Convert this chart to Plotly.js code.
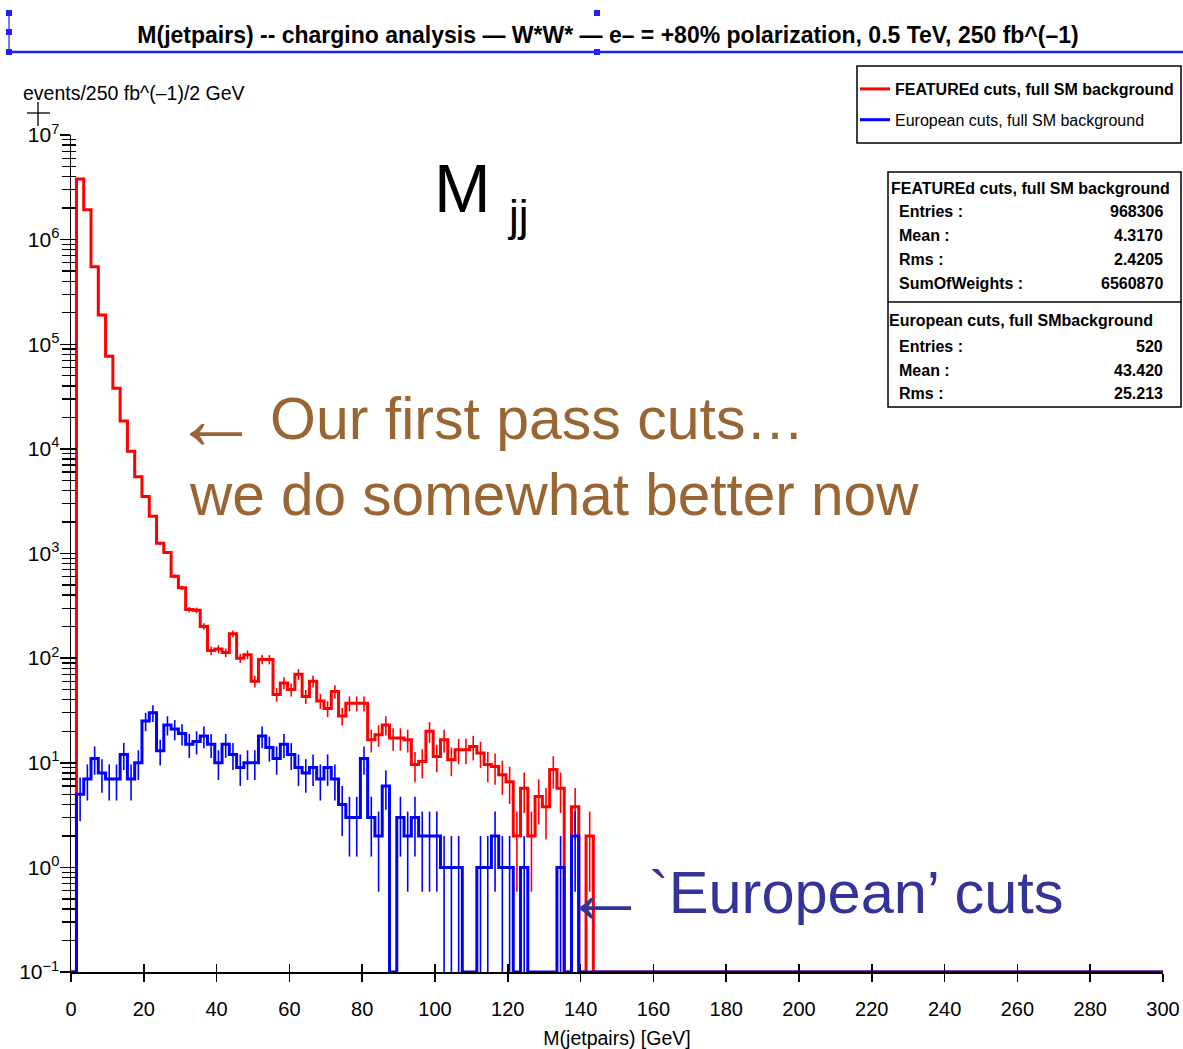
<!DOCTYPE html>
<html>
<head>
<meta charset="utf-8">
<script src="https://cdn.plot.ly/plotly-3.0.1.min.js"></script>
<style>html,body{margin:0;padding:0;background:#fff;}</style>
</head>
<body>
<div id="chart" style="width:1183px;height:1049px;"></div>
<script>
// ---------------- data ----------------
const BIN_WIDTH = 2;          // GeV per bin
const FIRST_BIN_CENTER = 0.5; // GeV
const X_MAX = 300;

// FEATUREd cuts, full SM background (bin centres 0.5, 2.5, ... 142.5 GeV)
const redCounts = [0, 3.8e6, 1.93e6, 5.5e5, 1.9e5, 7.7e4, 3.8e4, 1.85e4, 9.5e3, 5.4e3,
  3.5e3, 2.27e3, 1.25e3, 1.02e3, 607, 470, 291, 287, 201, 118,
  122, 113, 171, 100, 108, 60, 97, 97, 45, 58,
  50, 70, 43, 60, 39, 33, 48, 28, 37, 37,
  37, 16.6, 18.5, 23, 17.2, 17.2, 16.6, 9.6, 10.3, 20,
  11.5, 16.6, 10.7, 13.3, 13.3, 14.3, 12.4, 9.6, 9.2, 7.7,
  6.6, 2, 5.7, 2, 4.75, 3.8, 8.6, 5.7, 0, 3.8,
  0, 2];

// European cuts, full SM background (bin centres 0.5, 2.5, ... 138.5 GeV)
const blueCounts = [0, 5, 7, 11, 8, 7, 7, 12, 7, 10,
  25, 30, 13, 23, 21, 19, 15, 16, 18, 15,
  10, 15, 12, 9, 10, 10, 18, 14, 11, 15,
  12, 9, 8, 9, 7, 9, 7, 4, 3, 3,
  11, 3, 2, 6, 0, 3, 2, 3, 2, 2,
  2, 1, 1, 1, 0, 0, 1, 1, 2, 1,
  1, 0, 1, 0, 0, 0, 0, 1, 0, 2];

const seriesNames = ['<b>FEATUREd cuts, full SM background</b>', 'European cuts, full SM background'];
const xTickVals = [0, 20, 40, 60, 80, 100, 120, 140, 160, 180, 200, 220, 240, 260, 280, 300];
const yDecadeExps = [-1, 0, 1, 2, 3, 4, 5, 6, 7];

const statsTitleRed = 'FEATUREd cuts, full SM background';
const statsLabelsRed = ['Entries :', 'Mean :', 'Rms :', 'SumOfWeights :'];
const statsValuesRed = ['968306', '4.3170', '2.4205', '6560870'];
const statsTitleBlue = 'European cuts, full SMbackground';
const statsLabelsBlue = ['Entries :', 'Mean :', 'Rms :'];
const statsValuesBlue = ['520', '43.420', '25.213'];

const chartTitle = 'M(jetpairs) -- chargino analysis \u2014 W*W* \u2014 e\u2013 = +80% polarization, 0.5 TeV, 250 fb^(\u20131)';
const yLabel = 'events/250 fb^(\u20131)/2 GeV';
const xLabel = 'M(jetpairs) [GeV]';

// ---------------- helpers ----------------
const W = 1183, H = 1049;
const PL = 71, PR = 1163, PT = 135, PB = 972;
const px = v => (v - PL) / (PR - PL);      // pixel x -> paper x
const py = v => (PB - v) / (PB - PT);      // pixel y -> paper y
const Y_MIN_EXP = -1, Y_MAX_EXP = 7;
const FLOOR = Math.pow(10, Y_MIN_EXP);     // empty bins drawn on the axis
const FONT = 'Liberation Sans, Arial, sans-serif';
const NARROW = 'Liberation Sans Narrow, Liberation Sans, Arial, sans-serif';

function centers(counts) { return counts.map((_, i) => FIRST_BIN_CENTER + i * BIN_WIDTH); }
function stepLine(counts) {
  const xs = [], ys = [];
  counts.forEach((c, i) => {
    xs.push(FIRST_BIN_CENTER + i * BIN_WIDTH - BIN_WIDTH / 2);
    ys.push(c > 0 ? c : FLOOR);
  });
  xs.push(FIRST_BIN_CENTER + (counts.length - 1) * BIN_WIDTH + BIN_WIDTH / 2); ys.push(FLOOR);
  xs.push(X_MAX); ys.push(FLOOR);
  return {xs, ys};
}

const RED = '#ff0000', BLUE = '#0000ff';
const redStep = stepLine(redCounts), blueStep = stepLine(blueCounts);

const traces = [
  {type: 'scatter', mode: 'lines', x: redStep.xs, y: redStep.ys, name: seriesNames[0],
   line: {color: RED, width: 3, shape: 'hv'}, legendgroup: 'r', hoverinfo: 'skip'},
  {type: 'scatter', mode: 'markers', x: centers(redCounts), y: redCounts.map(v => v > 0 ? v : null),
   marker: {size: 1, color: 'rgba(0,0,0,0)'}, showlegend: false, hoverinfo: 'skip',
   error_y: {type: 'sqrt', visible: true, color: RED, thickness: 1.6, width: 0}},
  {type: 'scatter', mode: 'lines', x: blueStep.xs, y: blueStep.ys, name: seriesNames[1],
   line: {color: BLUE, width: 3, shape: 'hv'}, legendgroup: 'b', hoverinfo: 'skip'},
  {type: 'scatter', mode: 'markers', x: centers(blueCounts), y: blueCounts.map(v => v > 0 ? v : null),
   marker: {size: 1, color: 'rgba(0,0,0,0)'}, showlegend: false, hoverinfo: 'skip',
   error_y: {type: 'sqrt', visible: true, color: BLUE, thickness: 1.6, width: 0}},
  {type: 'scatter', x: [null], y: [null], xaxis: 'x2', yaxis: 'y2', showlegend: false, hoverinfo: 'skip'}
];

const decadeVals = yDecadeExps.map(e => Math.pow(10, e));
const decadeText = yDecadeExps.map(e => '10<sup>' + (e < 0 ? '\u2212' + (-e) : e) + '</sup>');
const minorVals = [];
yDecadeExps.slice(0, -1).forEach(e => { for (let d = 2; d <= 9; d++) minorVals.push(d * Math.pow(10, e)); });

// annotations
const annotations = [];
function addText(text, x, y, opts) {
  annotations.push(Object.assign({text, x: px(x), y: py(y), xref: 'paper', yref: 'paper',
    showarrow: false, xanchor: 'left', yanchor: 'middle',
    font: {family: FONT, size: 16, color: '#000'}}, opts || {}));
}
const BROWN = '#996633', INDIGO = '#333399';
addText(yLabel, 21, 93, {font: {family: FONT, size: 19.5, color: '#000'}});
addText('M', 432, 188, {font: {family: FONT, size: 68, color: '#000'}});
addText('jj', 505, 215, {font: {family: FONT, size: 44, color: '#000'}});
addText('\u2190', 216, 419, {xanchor: 'center', font: {family: FONT, size: 88, color: BROWN}});
addText('Our first pass cuts\u2026', 268, 419, {font: {family: FONT, size: 59, color: BROWN}});
addText('we do somewhat better now', 187, 494, {font: {family: FONT, size: 58.5, color: BROWN}});
addText('\u2190', 605, 892, {xanchor: 'center', font: {family: FONT, size: 88, color: INDIGO}});
addText('`European\u2019 cuts', 647, 892, {font: {family: FONT, size: 59.5, color: INDIGO}});

const bold = {family: FONT, size: 16, color: '#000', weight: 'bold'};
addText(statsTitleRed, 889, 188, {font: bold});
statsLabelsRed.forEach((l, i) => {
  const y = 211 + i * 24.3;
  addText(l, 897, y, {font: bold});
  addText(statsValuesRed[i], 1165, y, {font: bold, xanchor: 'right'});
});
addText(statsTitleBlue, 887, 320, {font: bold});
statsLabelsBlue.forEach((l, i) => {
  const y = 346 + i * 24;
  addText(l, 897, y, {font: bold});
  addText(statsValuesBlue[i], 1165, y, {font: bold, xanchor: 'right'});
});

const FRAME_BLUE = '#1f1fff';
const shapes = [
  // legend box
  {type: 'rect', xref: 'paper', yref: 'paper', x0: px(857), x1: px(1181), y0: py(66), y1: py(143),
   line: {color: '#000', width: 1.5}},
  // stats box
  {type: 'rect', xref: 'paper', yref: 'paper', x0: px(888), x1: px(1181), y0: py(172), y1: py(407),
   line: {color: '#000', width: 1.5}},
  {type: 'line', xref: 'paper', yref: 'paper', x0: px(888), x1: px(1181), y0: py(302), y1: py(302),
   line: {color: '#000', width: 1.5}},
  // title selection frame
  {type: 'line', xref: 'paper', yref: 'paper', x0: px(9), x1: px(1183), y0: py(52), y1: py(52),
   line: {color: FRAME_BLUE, width: 2.5}},
  {type: 'line', xref: 'paper', yref: 'paper', x0: px(9), x1: px(9), y0: py(13), y1: py(52),
   line: {color: FRAME_BLUE, width: 1.2}},
  // crosshair
  {type: 'line', xref: 'paper', yref: 'paper', x0: px(27), x1: px(50), y0: py(113), y1: py(113),
   line: {color: '#000', width: 1.3}},
  {type: 'line', xref: 'paper', yref: 'paper', x0: px(38), x1: px(38), y0: py(102), y1: py(126),
   line: {color: '#000', width: 1.3}}
];
[[9, 13], [9, 32], [9, 52], [597, 13], [597, 52]].forEach(([hx, hy]) => {
  shapes.push({type: 'rect', xref: 'paper', yref: 'paper', x0: px(hx - 3), x1: px(hx + 3),
    y0: py(hy - 3), y1: py(hy + 3), fillcolor: FRAME_BLUE, line: {width: 0}});
});

const layout = {
  width: W, height: H,
  margin: {l: PL, r: W - PR, t: PT, b: H - PB, pad: 0, autoexpand: false},
  paper_bgcolor: '#fff', plot_bgcolor: '#fff',
  font: {family: FONT, color: '#000'},
  title: {text: chartTitle, x: 608 / W, xref: 'container', xanchor: 'center',
          y: 1 - 35 / H, yref: 'container', yanchor: 'middle', automargin: false,
          font: {family: FONT, size: 23, weight: 'bold', color: '#000'}},
  showlegend: true,
  legend: {x: px(855), y: py(72), xref: 'paper', yref: 'paper', xanchor: 'left', yanchor: 'top',
           bgcolor: 'rgba(0,0,0,0)', borderwidth: 0, tracegroupgap: 7,
           font: {family: FONT, size: 16, color: '#000'}},
  xaxis: {range: [0, X_MAX], tickmode: 'array', tickvals: xTickVals, ticks: 'outside', ticklen: 8,
          tickwidth: 1.5, tickcolor: '#000', showline: true, linecolor: '#000', linewidth: 1.5,
          showgrid: false, zeroline: false, layer: 'below traces', ticklabelstandoff: 10,
          tickfont: {family: NARROW, size: 20, color: '#000'}, automargin: false,
          title: {text: xLabel, standoff: 13, font: {family: FONT, size: 19.5, color: '#000'}}},
  yaxis: {type: 'log', range: [Y_MIN_EXP, Y_MAX_EXP], tickmode: 'array', tickvals: decadeVals,
          ticktext: decadeText, ticks: 'outside', ticklen: 10, tickwidth: 1.5, tickcolor: '#000',
          minor: {tickmode: 'array', tickvals: minorVals, ticks: 'outside', ticklen: 8, tickwidth: 1.3, tickcolor: '#000'},
          showline: true, linecolor: '#000', linewidth: 1.5, showgrid: false, zeroline: false,
          layer: 'below traces', ticklabelstandoff: -4, automargin: false,
          tickfont: {family: NARROW, size: 21, color: '#000'}},
  xaxis2: {overlaying: 'x', anchor: 'y2', range: [0, X_MAX], tickmode: 'array', tickvals: xTickVals,
           ticks: 'inside', ticklen: 8, tickwidth: 1.5, tickcolor: '#000', showticklabels: false,
           showline: false, showgrid: false, zeroline: false},
  yaxis2: {overlaying: 'y', anchor: 'x2', type: 'log', range: [Y_MIN_EXP, Y_MAX_EXP], tickmode: 'array',
           tickvals: decadeVals, ticks: 'inside', ticklen: 6, tickwidth: 1.5, tickcolor: '#000',
           minor: {tickmode: 'array', tickvals: minorVals, ticks: 'inside', ticklen: 5, tickwidth: 1.3, tickcolor: '#000'},
           showticklabels: false, showline: false, showgrid: false, zeroline: false},
  annotations, shapes
};

Plotly.newPlot('chart', traces, layout, {staticPlot: true, displayModeBar: false});
</script>
</body>
</html>
